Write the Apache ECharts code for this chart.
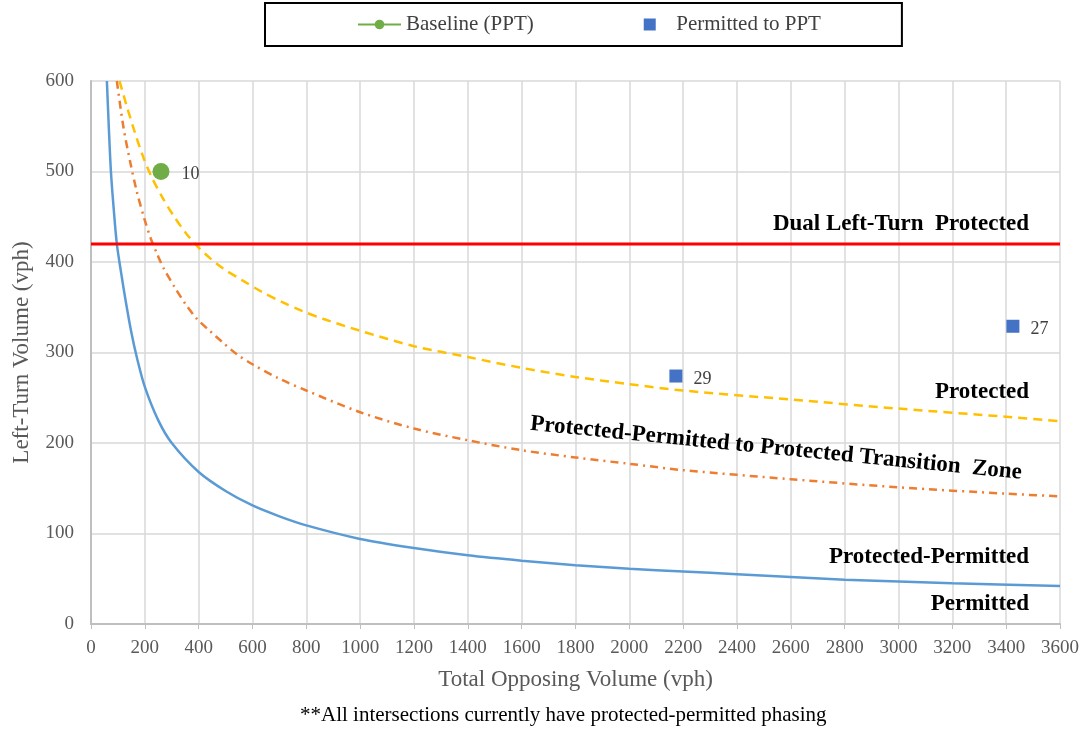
<!DOCTYPE html>
<html>
<head>
<meta charset="utf-8">
<script src="https://cdn.jsdelivr.net/npm/echarts@6/dist/echarts.min.js"></script>
<style>
    html, body { margin: 0; padding: 0; background: #fff; }
    #chart { width: 1083px; height: 733px; }
</style>
</head>
<body>
<div id="chart"></div>
<script>
const fontName = '"Liberation Serif", "Times New Roman", serif';

// [total opposing volume, left-turn volume]
const permittedCurve = [
    [59, 600], [66, 550], [74, 500], [84, 460], [96, 420], [113, 386], [130, 355],
    [150, 322], [170, 295], [200, 262], [250, 225], [300, 200], [400, 168], [500, 147],
    [600, 131], [700, 119], [800, 109], [1000, 94], [1200, 84], [1400, 76], [1600, 70],
    [1800, 65], [2000, 61], [2200, 58], [2400, 55], [2800, 49], [3200, 45], [3600, 42]
];
const protectedCurve = [
    [106, 600], [134, 571], [160, 546], [189, 520], [222, 496], [264, 472], [307, 451],
    [355, 431], [400, 416], [443, 404], [490, 393], [561, 380], [635, 367], [709, 356],
    [784, 346], [864, 337], [1000, 324], [1200, 307], [1400, 295], [1600, 283],
    [1800, 273], [2000, 265], [2200, 258], [2600, 248], [3000, 238], [3400, 229], [3600, 224]
];
const transitionCurve = [
    [96, 600], [121, 548], [146, 510], [170, 478], [198, 448], [222, 426], [247, 408],
    [270, 393], [313, 371], [350, 354], [391, 338], [441, 324], [490, 311], [542, 298],
    [600, 287], [700, 271], [800, 258], [1000, 234], [1200, 216], [1400, 203], [1600, 192],
    [1800, 184], [2000, 177], [2200, 170], [2600, 160], [3000, 151], [3400, 144], [3600, 141]
];
const dualLeftLine = [[0, 420], [3600, 420]];

const baselinePoints = [[260, 500, '10']];
const permittedToPPT = [[2173, 274, '29'], [3425, 329, '27']];

const zoneNames = ['Dual Left-Turn  Protected', 'Protected', 'Protected-Permitted', 'Permitted',
    'Protected-Permitted to Protected Transition  Zone'];
const zoneX = [3485, 3485, 3485, 3485, 2545];
const zoneY = [442, 256, 74, 22, 194];

const chart = echarts.init(document.getElementById('chart'));

function zoneMarks() {
    return zoneNames.map(function (name, i) {
        const last = i === zoneNames.length - 1;
        return {
            name: name,
            coord: [zoneX[i], zoneY[i]],
            label: last ? { position: 'inside', rotate: -5.7 } : { position: 'left', distance: 0 }
        };
    });
}

function dataLabel(distance) {
    return {
        show: true,
        position: 'right',
        distance: distance,
        offset: [0, 3],
        formatter: function (p) { return p.data[2]; },
        fontFamily: fontName,
        fontSize: 18,
        color: '#404040'
    };
}

function curve(name, data, color, dash) {
    return {
        name: name,
        type: 'line',
        data: data,
        smooth: 0.3,
        showSymbol: false,
        lineStyle: { color: color, width: 2.5, type: dash },
        z: 3
    };
}

chart.setOption({
    animation: false,
    textStyle: { fontFamily: fontName },
    title: {
        text: '**All intersections currently have protected-permitted phasing',
        left: 300,
        top: 705,
        padding: 0,
        textStyle: { fontFamily: fontName, fontSize: 21, fontWeight: 'normal', color: '#000' }
    },
    legend: {
        data: ['Baseline (PPT)', { name: 'Permitted to PPT', icon: 'path://M0,0h10v10h-10z' }],
        left: 265,
        top: 3,
        padding: [11, 81, 11, 92],
        itemGap: 110,
        itemWidth: 43,
        itemHeight: 12,
        borderColor: '#000',
        borderWidth: 2,
        textStyle: { fontFamily: fontName, fontSize: 21, color: '#404040' }
    },
    grid: { left: 91, right: 23, top: 81, bottom: 109, outerBoundsMode: 'none' },
    xAxis: {
        type: 'value',
        min: 0,
        max: 3600,
        interval: 200,
        name: 'Total Opposing Volume (vph)',
        nameLocation: 'middle',
        nameGap: 44,
        nameTextStyle: { fontFamily: fontName, fontSize: 23, color: '#595959' },
        axisLine: { show: true, lineStyle: { color: '#bfbfbf', width: 2 } },
        axisTick: { show: true, length: 5, lineStyle: { color: '#bfbfbf' } },
        axisLabel: {
            fontFamily: fontName, fontSize: 19, color: '#595959', margin: 15,
            formatter: function (v) { return String(v); }
        },
        splitLine: { show: true, lineStyle: { color: '#d9d9d9', width: 1.5 } }
    },
    yAxis: {
        type: 'value',
        min: 0,
        max: 600,
        interval: 100,
        name: 'Left-Turn Volume (vph)',
        nameLocation: 'middle',
        nameGap: 58,
        nameTextStyle: { fontFamily: fontName, fontSize: 23, color: '#595959' },
        axisLine: { show: true, lineStyle: { color: '#bfbfbf', width: 2 } },
        axisTick: { show: false },
        axisLabel: { fontFamily: fontName, fontSize: 19, color: '#595959', margin: 17 },
        splitLine: { show: true, lineStyle: { color: '#d9d9d9', width: 1.5 } }
    },
    series: [
        curve('Permitted', permittedCurve, '#5b9bd5', 'solid'),
        curve('Protected', protectedCurve, '#ffc000', [9, 6]),
        curve('Transition', transitionCurve, '#ed7d31', [8, 5, 2, 5]),
        {
            name: 'Dual Left-Turn Protected',
            type: 'line',
            data: dualLeftLine,
            showSymbol: false,
            lineStyle: { color: '#ff0000', width: 3 },
            z: 4,
            markPoint: {
                symbol: 'circle',
                symbolSize: 0,
                label: {
                    show: true,
                    formatter: '{b}',
                    fontFamily: fontName,
                    fontSize: 23,
                    fontWeight: 'bold',
                    color: '#000'
                },
                data: zoneMarks()
            }
        },
        {
            name: 'Baseline (PPT)',
            type: 'line',
            data: baselinePoints,
            symbol: 'circle',
            symbolSize: 17,
            itemStyle: { color: '#70ad47' },
            lineStyle: { color: '#70ad47', width: 3 },
            label: dataLabel(12),
            z: 5
        },
        {
            name: 'Permitted to PPT',
            type: 'scatter',
            data: permittedToPPT,
            symbol: 'rect',
            symbolSize: 13,
            itemStyle: { color: '#4472c4', opacity: 1 },
            label: dataLabel(11),
            z: 5
        }
    ]
});
</script>
</body>
</html>
